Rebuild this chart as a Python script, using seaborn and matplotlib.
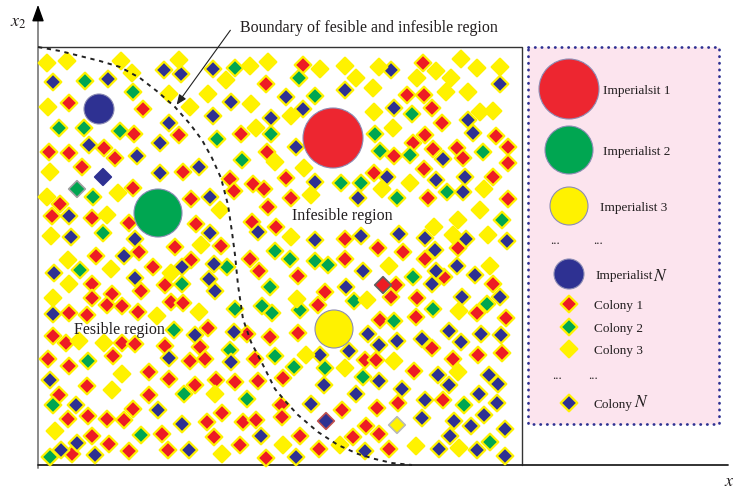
import matplotlib
matplotlib.use("Agg")
import matplotlib.pyplot as plt
from matplotlib.patches import Circle, Rectangle
import pandas as pd
import seaborn as sns

# colony positions (pixel coordinates, y downwards)
red_x = [69, 143, 134, 179, 49, 69, 104, 115, 82, 183, 133, 60, 52, 92, 191, 129, 175, 196, 139,
         303, 266, 241, 267, 230, 234, 253, 264, 286, 291, 268, 252, 276, 345, 221,
         423, 407, 424, 432, 442, 425, 496, 394, 413, 433, 457, 463, 508, 508, 424, 374, 493, 428, 508, 378, 403, 458,
         96, 153, 191, 92, 141, 165, 92, 112, 107, 122, 171, 183, 69, 87, 138, 53, 66, 122, 135, 165, 48, 69, 113,
         190, 149, 169, 87, 59, 149, 195, 68, 88, 107, 124, 133, 92, 162, 109, 129, 72, 168,
         250, 259, 345, 298, 325, 318, 208, 247, 270, 298, 200, 205, 255, 216, 235, 258, 283, 281, 342, 222, 207,
         243, 256, 282, 214, 300, 353, 240, 319, 266,
         425, 444, 493, 396, 391, 417, 477, 506, 380, 416, 432, 365, 376, 453, 478, 502, 414, 398, 377, 443, 366, 379, 389]
red_y = [103, 109, 134, 135, 152, 153, 148, 158, 167, 172, 188, 204, 216, 218, 199, 223, 247, 224, 252,
         65, 84, 134, 152, 179, 191, 184, 189, 178, 198, 207, 222, 227, 239, 246,
         63, 95, 95, 108, 123, 135, 136, 156, 143, 149, 148, 158, 147, 163, 169, 173, 177, 198, 199, 248, 252, 248,
         256, 267, 260, 284, 291, 285, 298, 294, 305, 306, 302, 303, 313, 315, 312, 336, 343, 343, 344, 346, 359, 366, 356,
         361, 372, 379, 386, 395, 395, 385, 419, 416, 419, 420, 409, 436, 434, 444, 451, 454, 450,
         259, 271, 259, 276, 292, 305, 328, 334, 337, 333, 347, 359, 359, 380, 382, 381, 378, 405, 410, 413, 422,
         422, 420, 417, 437, 436, 437, 445, 449, 458,
         259, 277, 284, 285, 297, 298, 313, 318, 320, 317, 348, 360, 360, 359, 355, 353, 371, 403, 408, 400, 426, 434, 449]

green_x = [85, 133, 59, 84, 120, 93, 103,
           235, 299, 315, 271, 217, 242, 341, 361, 275,
           412, 375, 380, 410, 483, 447, 397, 502,
           80, 182, 174, 88, 53, 184, 141, 50,
           227, 290, 315, 328, 270, 354, 300, 235, 262, 272, 230, 275, 294, 325, 247,
           413, 433, 487, 394, 363, 464, 490]
green_y = [81, 92, 128, 128, 131, 197, 233,
           68, 78, 96, 134, 139, 160, 183, 183, 251,
           114, 134, 151, 155, 152, 192, 198, 220,
           270, 284, 330, 361, 405, 394, 435, 457,
           267, 259, 261, 265, 287, 301, 310, 309, 306, 313, 350, 356, 367, 368, 399,
           277, 309, 304, 321, 377, 405, 442]

blue_x = [164, 181, 53, 108, 169, 160, 89, 137, 160, 199, 69, 71, 135,
          213, 345, 231, 286, 303, 213, 271, 296, 315, 358, 210, 258, 315, 361, 210,
          391, 500, 394, 468, 473, 443, 387, 436, 463, 465, 399, 425, 466, 507, 435,
          124, 54, 182, 135, 53, 195, 169, 50, 76, 158, 182, 77, 61, 95, 189,
          214, 209, 215, 346, 234, 231, 320, 349, 324, 356, 311, 261, 296,
          363, 436, 457, 475, 432, 462, 500, 368, 379, 397, 422, 449, 461, 481, 501, 379, 438, 449, 489,
          498, 402, 425, 479, 497, 422, 454, 471, 484, 505, 450, 439, 477, 365, 505]
blue_y = [70, 74, 82, 79, 123, 143, 145, 156, 173, 167, 216, 237, 239,
          69, 90, 102, 97, 109, 116, 118, 147, 182, 198, 197, 232, 240, 236, 233,
          70, 84, 108, 120, 133, 159, 177, 180, 192, 177, 234, 238, 239, 241, 250,
          256, 273, 267, 278, 314, 335, 358, 380, 405, 410, 424, 443, 450, 455, 450,
          264, 279, 291, 287, 332, 362, 355, 351, 385, 394, 404, 436, 457,
          271, 271, 266, 275, 284, 297, 297, 334, 345, 341, 339, 331, 342, 334, 335, 381, 375, 385, 375,
          384, 389, 400, 394, 403, 418, 421, 426, 415, 429, 436, 449, 450, 451, 456]

yellow_x = [47, 67, 121, 179, 132, 169, 48, 190, 50, 118, 47, 107, 51,
            250, 268, 320, 345, 226, 356, 208, 251, 291, 256, 275, 304, 311, 220, 291, 201,
            379, 461, 477, 500, 436, 417, 451, 373, 446, 468, 374, 480, 493, 393, 382, 410, 484, 480, 458, 434, 453, 488,
            68, 111, 171, 69, 53, 157, 79, 104, 122, 112, 55,
            297, 199, 306, 345, 215, 283, 340, 222,
            389, 490, 367, 459, 394, 458, 416, 459]
yellow_y = [63, 61, 61, 60, 73, 94, 107, 107, 172, 193, 197, 215, 236,
            66, 62, 69, 66, 80, 78, 94, 104, 116, 128, 162, 168, 195, 210, 237, 245,
            67, 59, 68, 67, 71, 78, 78, 88, 92, 92, 112, 112, 111, 128, 189, 183, 189, 210, 220, 227, 235, 235,
            260, 269, 273, 284, 298, 316, 341, 343, 374, 390, 431,
            299, 312, 355, 368, 394, 445, 445, 454,
            266, 266, 300, 311, 361, 372, 446, 448]

# a few colonies drawn with a different outline
odd_x = [103, 77, 383, 326, 397]
odd_y = [177, 189, 285, 421, 425]
odd_fill = ["#2E3192", "#00A651", "#ED1C24", "#2E3192", "#FFF200"]
odd_edge = ["#2E3192", "#A0A0A0", "#606060", "#C0504D", "#B8B8B8"]

# imperialists: centre and radius
imp_x = [333, 158, 334, 99]
imp_y = [138, 213, 329, 109]
imp_r = [30, 24, 19, 15]
imp_col = ["#ED2630", "#00A651", "#FFF200", "#2E3192"]

# feasible / infeasible boundary
bnd_x = [38, 60, 80, 100, 120, 140, 158, 175, 190, 202, 212, 221, 228, 232, 235, 238, 243,
         251, 263, 275, 286, 298, 318, 338, 358, 375, 392, 412]
bnd_y = [47, 51, 56, 61, 67, 78, 92, 107, 124, 140, 158, 178, 205, 232, 255, 285, 319,
         342, 365, 389, 402, 415, 432, 445, 454, 459, 463, 465]

# legend entries
leg_labels = ["Imperialsit 1", "Imperialist 2", "Imperialist 3", "Imperialist", "Colony 1", "Colony 2", "Colony 3", "Colony"]
leg_y = [89, 150, 206, 274, 304, 327, 349, 403]

YEL = "#FFF200"
colors = {"red": "#ED1C24", "green": "#00A651", "blue": "#2E3192", "yellow": YEL}
DSIZE = 72

df = pd.concat([
    pd.DataFrame({"x": red_x, "y": red_y, "kind": "red"}),
    pd.DataFrame({"x": green_x, "y": green_y, "kind": "green"}),
    pd.DataFrame({"x": blue_x, "y": blue_y, "kind": "blue"}),
    pd.DataFrame({"x": yellow_x, "y": yellow_y, "kind": "yellow"}),
], ignore_index=True)

sns.set_style("white")
plt.rcParams["font.family"] = ["Liberation Serif", "DejaVu Serif"]
plt.rcParams["mathtext.fontset"] = "stix"
TXT = "#231F20"

fig = plt.figure(figsize=(7.36, 4.91), dpi=100)
ax = fig.add_axes([0, 0, 1, 1])

# frame and axes
ax.plot([38, 522, 522], [47, 47, 465], color="#333333", lw=1.0)
ax.plot([38, 38], [468, 12], color="#8A8A8A", lw=1.4)
ax.plot([38, 728], [465, 465], color="#222222", lw=1.3)
ax.annotate("", xy=(38, 2), xytext=(38, 16),
            arrowprops=dict(arrowstyle="-|>,head_length=1.0,head_width=0.36", color="black", lw=1))
ax.annotate("", xy=(746, 465), xytext=(724, 465),
            arrowprops=dict(arrowstyle="-|>,head_length=1.0,head_width=0.36", color="black", lw=1))
ax.text(18, 22, "$x_2$", fontsize=13, color=TXT, ha="center", va="center")
ax.text(724, 482, "$x$", fontsize=13, color=TXT, ha="left", va="center")

# colonies
sns.scatterplot(data=df, x="x", y="y", hue="kind", palette=colors, marker="D", s=DSIZE,
                edgecolor=YEL, linewidth=1.6, legend=False, ax=ax, zorder=3)
ax.scatter(odd_x, odd_y, marker="D", s=DSIZE, c=odd_fill, edgecolors=odd_edge, linewidths=1.2, zorder=3)

# imperialists
for x, y, r, c in zip(imp_x, imp_y, imp_r, imp_col):
    ax.add_patch(Circle((x, y), r, facecolor=c, edgecolor="#8C8CB4", lw=0.8, zorder=4))

# boundary
ax.plot(bnd_x, bnd_y, color="#222222", lw=1.4, ls=(0, (2.2, 2.4)), zorder=5)
ax.annotate("", xy=(175, 107), xytext=(232, 28),
            arrowprops=dict(arrowstyle="-|>,head_length=0.6,head_width=0.25", color="#222222", lw=0.8), zorder=6)
ax.text(240, 28, "Boundary of fesible and infesible region", fontsize=11.5, color=TXT, va="center")
ax.text(292, 216, "Infesible region", fontsize=11.5, color=TXT, va="center", zorder=6)
ax.text(74, 330, "Fesible region", fontsize=11.5, color=TXT, va="center", zorder=6)

# legend box
ax.add_patch(Rectangle((528, 47), 191, 377, facecolor="#FCE4EE", edgecolor="#2E3192",
                       lw=2.0, ls=(0, (0.1, 2.3)), capstyle="round", zorder=2))
for (y, r, c) in zip(leg_y[:4], [30, 24, 19, 15], imp_col[:3] + ["#2E3192"]):
    ax.add_patch(Circle((569, y), r, facecolor=c, edgecolor="#8C8CB4", lw=0.8, zorder=4))
ax.scatter([569, 569, 569, 569], leg_y[4:], marker="D", s=DSIZE,
           c=[colors["red"], colors["green"], colors["yellow"], colors["blue"]],
           edgecolors=YEL, linewidths=1.6, zorder=4)
label_x = [603, 603, 600, 595, 594, 594, 594, 593]
for lx, ly, lab in zip(label_x, leg_y, leg_labels):
    ax.text(lx, ly + 2, lab, fontsize=9.5, color=TXT, va="center", zorder=5)
ax.text(653, 277, "$N$", fontsize=12.5, color=TXT, va="center", zorder=5)
ax.text(634, 403, "$N$", fontsize=12.5, color=TXT, va="center", zorder=5)
for dx, dy in [(555, 241), (598, 241), (557, 376), (593, 376)]:
    ax.text(dx, dy, "...", fontsize=9, color=TXT, ha="center", va="center", zorder=5)

ax.set_xlim(0, 736)
ax.set_ylim(491, 0)
ax.axis("off")
fig.savefig("out.png", dpi=100)
